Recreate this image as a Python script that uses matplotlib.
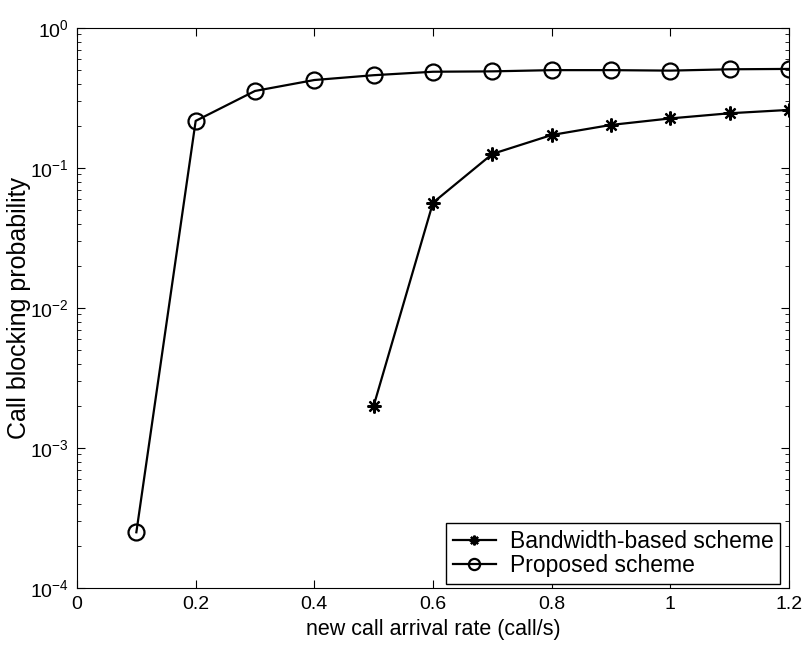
"""
Call blocking probability vs new call arrival rate (log scale)
"""
from matplotlib import pyplot as plt

plt.rcParams['font.family'] = ['Liberation Sans', 'DejaVu Sans']
plt.rcParams['mathtext.default'] = 'regular'
plt.rcParams['axes.unicode_minus'] = False

# data
rate = [0.1, 0.2, 0.3, 0.4, 0.5, 0.6, 0.7, 0.8, 0.9, 1.0, 1.1, 1.2]
proposed = [2.5e-4, 0.217, 0.355, 0.425, 0.46, 0.487, 0.49, 0.5, 0.5, 0.496, 0.507, 0.51]

rate_bw = [0.5, 0.6, 0.7, 0.8, 0.9, 1.0, 1.1, 1.2]
bandwidth = [2.0e-3, 0.0565, 0.126, 0.172, 0.203, 0.226, 0.246, 0.26]

x_ticks = [0, 0.2, 0.4, 0.6, 0.8, 1, 1.2]
x_labels = ['0', '0.2', '0.4', '0.6', '0.8', '1', '1.2']

fig = plt.figure(figsize=(8.04, 6.45), dpi=100)
ax = fig.add_axes([0.0958, 0.0884, 0.8855, 0.8682])

ax.plot(rate_bw, bandwidth, color='black', lw=1.6, marker=(8, 2, 0), ms=10,
        mew=1.6, label='Bandwidth-based scheme')
ax.plot(rate, proposed, color='black', lw=1.6, marker='o', ms=11.5, mfc='none',
        mew=1.6, label='Proposed scheme')

ax.set_yscale('log')
ax.set_xlim(0, 1.2)
ax.set_ylim(1e-4, 1)
ax.set_xticks(x_ticks)
ax.set_xticklabels(x_labels)
ax.tick_params(which='both', direction='in', top=True, right=True, labelsize=14)
ax.tick_params(which='major', length=6, pad=6)
ax.tick_params(which='minor', length=3)
ax.tick_params(axis='x', which='minor', top=False, bottom=False)

ax.set_xlabel('new call arrival rate (call/s)', fontsize=15.5, labelpad=4)
ax.set_ylabel('Call blocking probability', fontsize=18)
ax.yaxis.set_label_coords(-0.064, 0.5)

leg = ax.legend(loc='lower right', bbox_to_anchor=(0.988, 0.007), borderaxespad=0,
                fontsize=16.5, fancybox=False, edgecolor='black', framealpha=1,
                handlelength=1.9, handletextpad=0.6, markerscale=0.7,
                borderpad=0.3, labelspacing=0.05)
leg.get_frame().set_linewidth(1.0)

plt.savefig('out.png', dpi=100)
